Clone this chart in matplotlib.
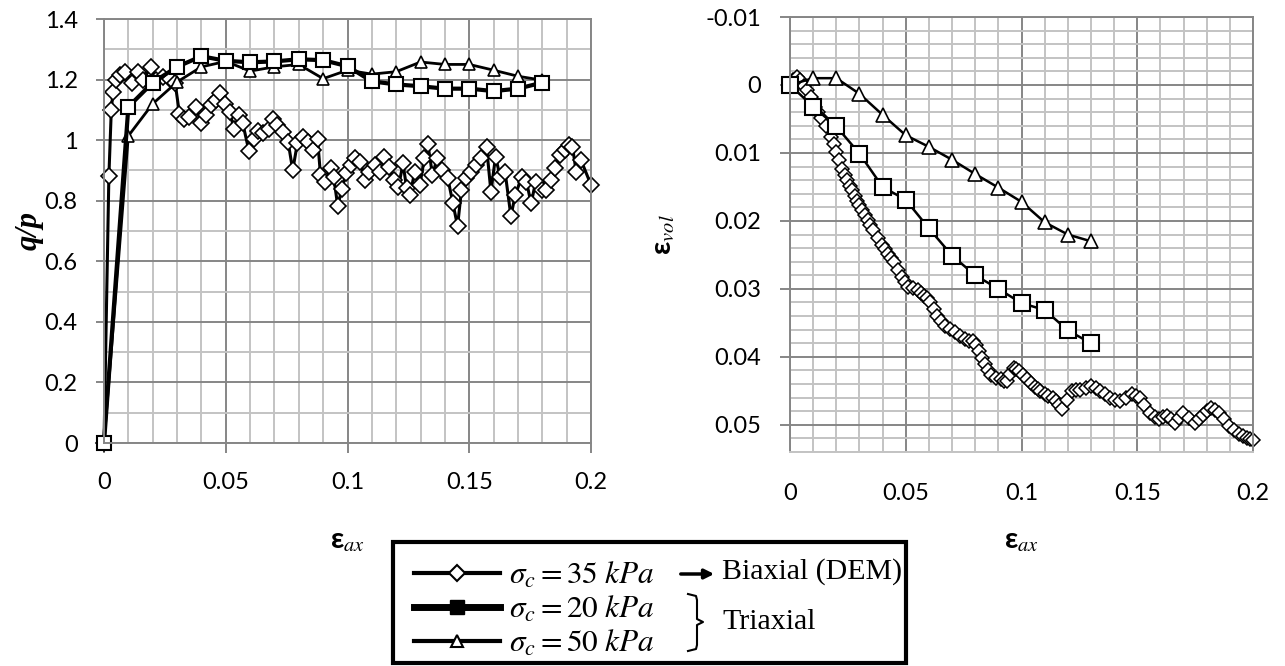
import matplotlib
matplotlib.use("Agg")
import matplotlib.pyplot as plt
import matplotlib.ticker as mticker
from matplotlib.lines import Line2D
from matplotlib.patches import Rectangle, FancyArrowPatch

plt.rcParams['font.family'] = ['Lato', 'DejaVu Sans']
plt.rcParams['mathtext.fontset'] = 'stix'

# ---- data ----
# left panel: q/p against axial strain
dem_qp_x = [0, 0.002, 0.003, 0.0037, 0.0051, 0.0066, 0.0088, 0.0117, 0.0139, 0.0161,
            0.0194, 0.0212, 0.0241, 0.027, 0.0292, 0.031, 0.0329, 0.0351, 0.0377, 0.0399,
            0.0417, 0.0439, 0.0461, 0.0478, 0.0497, 0.0516, 0.0534, 0.0556, 0.057, 0.0595,
            0.0614, 0.0633, 0.0654, 0.0677, 0.0694, 0.0712, 0.0735, 0.0756, 0.0775, 0.0794,
            0.0816, 0.0836, 0.0858, 0.0877, 0.0889, 0.0906, 0.0931, 0.0943, 0.096, 0.0977,
            0.0994, 0.1013, 0.103, 0.1053, 0.1072, 0.1089, 0.1111, 0.1133, 0.115, 0.117,
            0.1189, 0.1209, 0.1228, 0.1243, 0.1257, 0.1276, 0.1297, 0.1316, 0.133, 0.1349,
            0.1368, 0.139, 0.1412, 0.1433, 0.1452, 0.1468, 0.1485, 0.1506, 0.1528, 0.155,
            0.1571, 0.1589, 0.1608, 0.1627, 0.1647, 0.1671, 0.1689, 0.1715, 0.1735, 0.1754,
            0.1773, 0.1798, 0.1816, 0.1836, 0.1853, 0.1871, 0.1893, 0.1911, 0.1924, 0.1939,
            0.1959, 0.2]
dem_qp_y = [0, 0.88, 1.1, 1.16, 1.2, 1.214, 1.225, 1.19, 1.225, 1.2,
            1.242, 1.198, 1.21, 1.203, 1.19, 1.086, 1.071, 1.077, 1.11, 1.057,
            1.082, 1.115, 1.131, 1.156, 1.12, 1.093, 1.038, 1.082, 1.055, 0.965,
            1.005, 1.031, 1.022, 1.038, 1.071, 1.049, 1.027, 0.995, 0.901, 0.989,
            1.011, 0.995, 0.967, 1.005, 0.885, 0.863, 0.907, 0.879, 0.782, 0.84,
            0.89, 0.918, 0.94, 0.929, 0.868, 0.896, 0.918, 0.896, 0.945, 0.912,
            0.868, 0.844, 0.923, 0.841, 0.819, 0.896, 0.852, 0.94, 0.987, 0.885,
            0.94, 0.901, 0.874, 0.791, 0.716, 0.835, 0.874, 0.896, 0.918, 0.94,
            0.978, 0.83, 0.945, 0.879, 0.896, 0.749, 0.819, 0.877, 0.863, 0.791,
            0.863, 0.835, 0.835, 0.868, 0.907, 0.951, 0.967, 0.984, 0.978, 0.896,
            0.934, 0.852]

tri_x = [0, 0.01, 0.02, 0.03, 0.04, 0.05, 0.06, 0.07, 0.08, 0.09,
         0.1, 0.11, 0.12, 0.13, 0.14, 0.15, 0.16, 0.17, 0.18]
tri20_qp = [0, 1.11, 1.19, 1.242, 1.277, 1.262, 1.257, 1.26, 1.267, 1.264,
            1.244, 1.194, 1.184, 1.178, 1.17, 1.17, 1.162, 1.17, 1.19]
tri50_qp = [0, 1.014, 1.12, 1.192, 1.242, 1.26, 1.228, 1.242, 1.25, 1.203,
            1.231, 1.218, 1.226, 1.258, 1.25, 1.25, 1.231, 1.211, 1.198]

# right panel: volumetric strain against axial strain
dem_vol_x = [0, 0.0015, 0.003, 0.0045, 0.006, 0.0075, 0.009, 0.0106, 0.012, 0.0135,
             0.0155, 0.0175, 0.019, 0.02, 0.0213, 0.0226, 0.0237, 0.0248, 0.0258, 0.0269,
             0.028, 0.029, 0.03, 0.031, 0.0322, 0.0335, 0.0347, 0.036, 0.0378, 0.0397,
             0.041, 0.0425, 0.0437, 0.0449, 0.0466, 0.0483, 0.0496, 0.0509, 0.053, 0.0551,
             0.0565, 0.0578, 0.059, 0.0603, 0.062, 0.0637, 0.0654, 0.0671, 0.0692, 0.0714,
             0.0735, 0.0757, 0.0774, 0.0791, 0.0804, 0.0817, 0.083, 0.0842, 0.0855, 0.0868,
             0.089, 0.0911, 0.0924, 0.0937, 0.0952, 0.0967, 0.0978, 0.0988, 0.1005, 0.1022,
             0.104, 0.1057, 0.107, 0.1082, 0.11, 0.1116, 0.1134, 0.1151, 0.1163, 0.1176,
             0.1198, 0.1219, 0.1236, 0.1253, 0.1277, 0.1301, 0.132, 0.1339, 0.136, 0.1382,
             0.1404, 0.1425, 0.145, 0.1476, 0.1493, 0.151, 0.1531, 0.1553, 0.1575, 0.1596,
             0.1613, 0.163, 0.1647, 0.1664, 0.1681, 0.1699, 0.1725, 0.175, 0.1767, 0.1784,
             0.1801, 0.1818, 0.1835, 0.1853, 0.1875, 0.1896, 0.1917, 0.1938, 0.1955, 0.1973,
             0.1987, 0.2]
dem_vol_y = [0, -0.0008, -0.0012, -0.0008, 0.0002, 0.0008, 0.0018, 0.0032, 0.004, 0.0048,
             0.006, 0.0076, 0.0087, 0.0098, 0.011, 0.0123, 0.0132, 0.014, 0.0148, 0.0155,
             0.0163, 0.017, 0.0177, 0.0184, 0.0191, 0.0198, 0.0206, 0.0213, 0.0225, 0.0236,
             0.0242, 0.0248, 0.0254, 0.026, 0.0272, 0.0283, 0.029, 0.0297, 0.0299, 0.0302,
             0.0306, 0.031, 0.0314, 0.032, 0.033, 0.034, 0.0347, 0.0354, 0.0359, 0.0364,
             0.0369, 0.0374, 0.0376, 0.0376, 0.0383, 0.0391, 0.0401, 0.0411, 0.0419, 0.0426,
             0.0431, 0.0433, 0.0435, 0.0436, 0.0425, 0.0416, 0.0418, 0.0421, 0.0427, 0.0433,
             0.0439, 0.0445, 0.0448, 0.045, 0.0454, 0.0458, 0.0461, 0.0465, 0.0471, 0.0477,
             0.0463, 0.045, 0.0449, 0.0449, 0.0446, 0.0443, 0.0446, 0.045, 0.0455, 0.046,
             0.0463, 0.0465, 0.046, 0.0455, 0.0457, 0.046, 0.0471, 0.0482, 0.0488, 0.0492,
             0.0489, 0.0487, 0.0492, 0.0497, 0.049, 0.0482, 0.049, 0.0497, 0.0491, 0.0485,
             0.048, 0.0475, 0.0478, 0.0482, 0.0492, 0.0502, 0.0508, 0.0514, 0.0517, 0.0519,
             0.0521, 0.0523]

tri_vol_x = [0, 0.01, 0.02, 0.03, 0.04, 0.05, 0.06, 0.07, 0.08, 0.09, 0.1, 0.11, 0.12, 0.13]
tri20_vol = [0, 0.0032, 0.0061, 0.0101, 0.015, 0.0169, 0.0211, 0.0251, 0.028, 0.03,
             0.0321, 0.0331, 0.0361, 0.038]
tri50_vol = [0, -0.001, -0.001, 0.0013, 0.0044, 0.0074, 0.0091, 0.011, 0.0131, 0.0151,
             0.0172, 0.0202, 0.022, 0.023]

qp_ticks = [0, 0.2, 0.4, 0.6, 0.8, 1.0, 1.2, 1.4]
vol_ticks = [-0.01, 0, 0.01, 0.02, 0.03, 0.04, 0.05]
ax_ticks = [0, 0.05, 0.1, 0.15, 0.2]

legend_labels = [r'$\sigma_c = 35\ kPa$', r'$\sigma_c = 20\ kPa$', r'$\sigma_c = 50\ kPa$']

# ---- figure ----
W, H = 1285, 666
fig = plt.figure(figsize=(W / 100, H / 100), dpi=100)


def px_axes(left, top, right, bottom):
    return fig.add_axes([left / W, 1 - bottom / H, (right - left) / W, (bottom - top) / H])


MAJOR = '#868686'
MINOR = '#c3c3c3'
fmt = mticker.FuncFormatter(lambda v, p: '%g' % round(v, 4))


def style_grid(ax):
    ax.grid(True, which='minor', color=MINOR, lw=1.4)
    ax.grid(True, which='major', color=MAJOR, lw=1.4)
    ax.set_axisbelow(True)
    for s in ax.spines.values():
        s.set_color(MAJOR)
        s.set_linewidth(1.4)
    ax.tick_params(which='minor', length=0)
    ax.tick_params(which='major', color=MAJOR, width=1.4, labelsize=17)


# left panel
ax1 = px_axes(104, 19, 591, 443)
ax1.plot(dem_qp_x, dem_qp_y, color='k', lw=2.2, marker='D', ms=8, mfc='white', mec='k',
         mew=1.2, clip_on=False)
ax1.plot(tri_x, tri50_qp, color='k', lw=2.0, marker='^', ms=9, mfc='white', mec='k',
         mew=1.2, clip_on=False)
ax1.plot(tri_x, tri20_qp, color='k', lw=3.0, marker='s', ms=10, mfc='white', mec='k',
         mew=1.5, clip_on=False)
ax1.set_xlim(0, 0.2)
ax1.set_ylim(0, 1.4)
ax1.set_xticks(ax_ticks)
ax1.set_yticks(qp_ticks)
ax1.xaxis.set_minor_locator(mticker.MultipleLocator(0.01))
ax1.yaxis.set_minor_locator(mticker.MultipleLocator(0.1))
ax1.xaxis.set_major_formatter(fmt)
ax1.yaxis.set_major_formatter(fmt)
style_grid(ax1)
ax1.tick_params(axis='x', which='major', length=7, pad=14)
ax1.tick_params(axis='y', which='major', length=6, pad=13)
ax1.set_ylabel('q/p', family='Liberation Serif', style='italic', weight='bold', fontsize=22)
ax1.yaxis.set_label_coords(-0.125, 0.5)
ax1.set_xlabel('ε$_{ax}$', weight='bold', fontsize=21)
ax1.xaxis.set_label_coords(0.5, -0.2)

# right panel
ax2 = px_axes(790, 17, 1253, 452)
ax2.plot(dem_vol_x, dem_vol_y, color='k', lw=1.8, marker='D', ms=7, mfc='white', mec='k',
         mew=1.1, clip_on=False)
ax2.plot(tri_vol_x, tri50_vol, color='k', lw=1.8, marker='^', ms=10, mfc='white', mec='k',
         mew=1.2, clip_on=False)
ax2.plot(tri_vol_x, tri20_vol, color='k', lw=1.8, marker='s', ms=11, mfc='white', mec='k',
         mew=1.5, clip_on=False)
ax2.set_xlim(0, 0.2)
ax2.set_ylim(0.054, -0.01)
ax2.set_xticks(ax_ticks)
ax2.set_yticks(vol_ticks)
ax2.xaxis.set_minor_locator(mticker.MultipleLocator(0.01))
ax2.yaxis.set_minor_locator(mticker.MultipleLocator(0.002))
ax2.xaxis.set_major_formatter(fmt)
ax2.yaxis.set_major_formatter(fmt)
style_grid(ax2)
ax2.spines['bottom'].set_color(MINOR)
ax2.tick_params(axis='x', which='major', length=0, pad=22)
ax2.tick_params(axis='y', which='major', length=7, pad=14)
ax2.set_ylabel('ε$_{vol}$', weight='bold', fontsize=21)
ax2.yaxis.set_label_coords(-0.245, 0.5)
ax2.set_xlabel('ε$_{ax}$', weight='bold', fontsize=21)
ax2.xaxis.set_label_coords(0.5, -0.175)

# ---- legend box ----
handles = [
    Line2D([], [], color='k', lw=3, marker='D', ms=8, mfc='white', mec='k', mew=1.5),
    Line2D([], [], color='k', lw=5, marker='s', ms=10, mfc='k', mec='k'),
    Line2D([], [], color='k', lw=3, marker='^', ms=9, mfc='white', mec='k', mew=1.5),
]
fig.legend(handles, legend_labels, loc='upper left', bbox_to_anchor=(414 / W, 1 - 560 / H),
           frameon=False, fontsize=22.5, handlelength=2.75, handletextpad=0.3,
           labelspacing=0.12, borderpad=0, borderaxespad=0)

fig.add_artist(Rectangle((393 / W, 1 - 663 / H), (906 - 393) / W, (663 - 542) / H,
                         transform=fig.transFigure, fill=False, lw=3, ec='k'))
fig.add_artist(FancyArrowPatch((678 / W, 1 - 574 / H), (717 / W, 1 - 574 / H),
                               transform=fig.transFigure, arrowstyle='-|>',
                               mutation_scale=14, lw=2.5, color='k'))
fig.text(722 / W, 1 - 572 / H, 'Biaxial (DEM)', family='Liberation Serif', fontsize=21.5, va='center')
fig.text(722 / W, 1 - 622 / H, 'Triaxial', family='Liberation Serif', fontsize=21.5, va='center')
brace_x = [688, 696, 697, 697, 703, 697, 697, 696, 688]
brace_y = [594, 596, 600, 619, 622, 625, 645, 649, 651]
fig.add_artist(Line2D([v / W for v in brace_x], [1 - v / H for v in brace_y],
                      transform=fig.transFigure, color='k', lw=1.5))

fig.savefig('out.png', dpi=100)
